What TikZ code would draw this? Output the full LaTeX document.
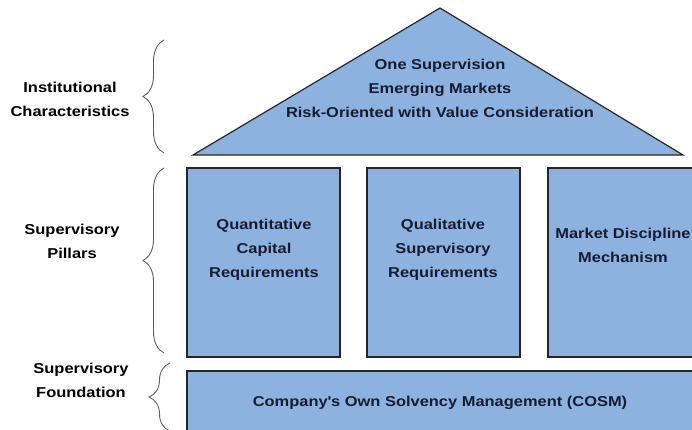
\documentclass[tikz,border=0pt]{standalone}
\usepackage{fontspec}
\setmainfont{Liberation Sans}[FakeStretch=1.15]
\usetikzlibrary{decorations.pathreplacing}
\definecolor{housefill}{RGB}{142,178,223}
\definecolor{housetext}{RGB}{22,28,48}
\definecolor{bracegray}{RGB}{95,95,95}

\begin{document}
\begin{tikzpicture}[x=1pt, y=-1pt,
  every node/.style={font=\fontsize{14.3}{24}\selectfont\bfseries, align=center, inner sep=0pt},
  block/.style={rectangle, fill=housefill, draw=black!85, line width=1.3pt},
  roof/.style={fill=housefill, draw=black!85, line width=1.2pt, line join=miter},
  intext/.style={text=housetext},
  side/.style={text=black},
  curly/.style={decorate, decoration={brace, amplitude=21pt}, draw=bracegray, line width=0.9pt}]
\useasboundingbox (0,0) rectangle (692,429);
\clip (0,0) rectangle (692,429);
% roof
\coordinate (apex) at (440,8);
\coordinate (eaveL) at (193,155);
\coordinate (eaveR) at (683,155);
\draw [roof] (eaveL) -- (apex) -- (eaveR) -- cycle;
\node (roofText) [intext] at (440,88) {One Supervision\\Emerging Markets\\Risk-Oriented with Value Consideration};
% pillars
\node (quant) [block, minimum width=153pt, minimum height=189pt] at (263.5,262.5) {};
\node (qual) [block, minimum width=153pt, minimum height=189pt] at (443.5,262.5) {};
\node (market) [block, minimum width=146pt, minimum height=189pt] at (621,262.5) {};
\node (quantText) [intext] at (264,250) {Quantitative\\Capital\\Requirements};
\node (qualText) [intext] at (443,250) {Qualitative\\Supervisory\\Requirements};
\node (marketText) [intext] at (623,245) {Market Discipline\\Mechanism};
% foundation
\node (cosm) [block, minimum width=508pt, minimum height=70pt] at (441,406) {};
\node (cosmText) [intext] at (440,403) {Company\textquotesingle s Own Solvency Management (COSM)};
% side labels
\node (instLabel) [side] at (70,99) {Institutional\\Characteristics};
\node (pillLabel) [side] at (72,241) {Supervisory\\Pillars};
\node (foundLabel) [side] at (81,380) {Supervisory\\Foundation};
\coordinate (b1s) at (164,153);
\coordinate (b1e) at (164,40);
\coordinate (b2s) at (164,353);
\coordinate (b2e) at (164,168);
\coordinate (b3s) at (170,431);
\coordinate (b3e) at (170,363);
\draw [curly] (b1s) -- (b1e);
\draw [curly] (b2s) -- (b2e);
\draw [curly] (b3s) -- (b3e);
\end{tikzpicture}
\end{document}
